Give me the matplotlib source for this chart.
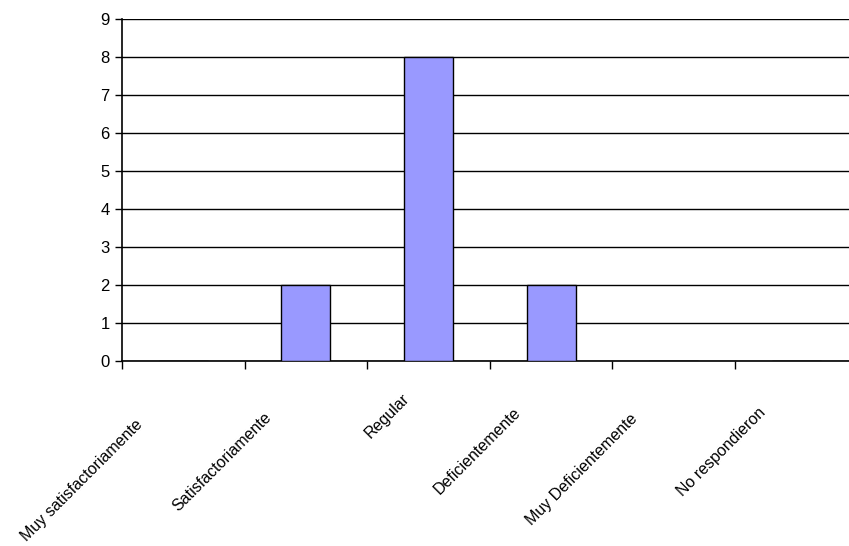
import matplotlib
matplotlib.use("Agg")
import matplotlib.pyplot as plt
import matplotlib.transforms as mtransforms

plt.rcParams['font.family'] = ['Liberation Sans', 'DejaVu Sans']

categories = ["Muy satisfactoriamente", "Satisfactoriamente", "Regular",
              "Deficientemente", "Muy Deficientemente", "No respondieron"]
counts = [0, 2, 8, 2, 0, 0]
y_ticks = list(range(0, 10))

fig = plt.figure(figsize=(8.49, 5.46), dpi=100)
# axes runs a little past the right edge of the figure
ax = fig.add_axes([122 / 849, (546 - 361) / 546, 735.6 / 849, 342 / 546])

x = list(range(len(categories)))
ax.bar(x, counts, width=0.4, color="#9999FF", edgecolor="black", linewidth=1.0, zorder=3)

ax.set_xlim(-0.5, len(categories) - 0.5)
ax.set_ylim(0, 9)
ax.set_yticks(y_ticks)
ax.yaxis.grid(True, color="black", linewidth=1.0, zorder=0)
ax.set_axisbelow(True)

for side in ["top", "right"]:
    ax.spines[side].set_visible(False)
for side in ["left", "bottom"]:
    ax.spines[side].set_linewidth(1.2)

ax.tick_params(axis="y", direction="out", length=5, width=1, labelsize=12, pad=4)

# tick marks between categories, labels at the centres
ax.set_xticks([i - 0.5 for i in x], minor=True)
ax.tick_params(axis="x", which="minor", direction="out", length=6, width=1)
ax.set_xticks(x)
ax.set_xticklabels(categories, rotation=45, ha="right", va="top",
                   rotation_mode="anchor", fontsize=11.5)
ax.tick_params(axis="x", which="major", length=0, pad=0)
# longer labels sit further down and to the left
for lab, name in zip(ax.get_xticklabels(), categories):
    extra = len(name) - 7
    dx = -27 - 1.4 * extra
    dy = -(30 + 1.7 * extra)
    shift = mtransforms.ScaledTranslation(dx / 100, dy / 100, fig.dpi_scale_trans)
    lab.set_transform(lab.get_transform() + shift)

fig.savefig("out.png", dpi=100)
